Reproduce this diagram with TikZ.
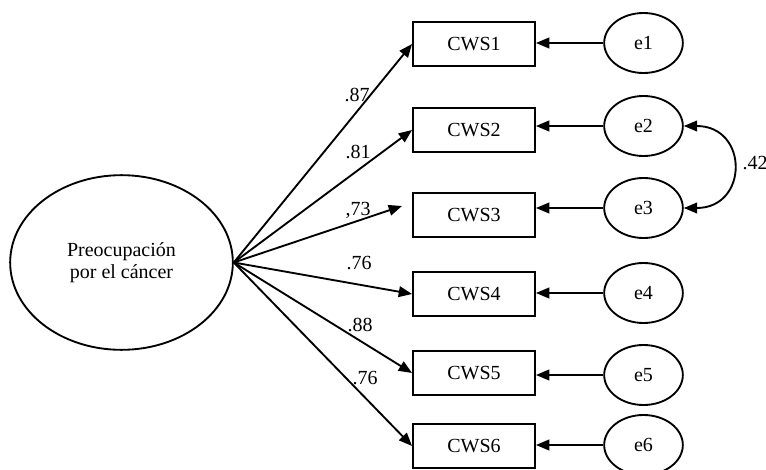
\documentclass[tikz,border=0pt]{standalone}
\usepackage{fontspec}
\setmainfont{Liberation Serif}
\usetikzlibrary{shapes.geometric,arrows.meta}
\begin{document}
\begin{tikzpicture}[x=0.75pt,y=-0.75pt,line width=1.4pt,
    font=\fontsize{15}{16.5}\selectfont,
    >={Triangle[length=10pt,width=8pt]}]
  \useasboundingbox (0,0) rectangle (766,470);
  \node[draw,ellipse,minimum width=167pt,minimum height=131pt,align=center] (F) at (121.5,262.5) {Preocupación\\por el cáncer};
  \foreach \i/\yb/\ye in {1/44/43,2/130/126,3/215/208,4/294/293,5/373/375,6/446/445} {
    \node[draw,minimum width=91.5pt,minimum height=33pt,inner sep=0pt] (c\i) at (474,\yb) {CWS\i};
    \node[draw,ellipse,minimum width=59pt,minimum height=45pt,inner sep=0pt] (e\i) at (643.5,\ye) {e\i};
    \draw[->] (e\i.west) -- (c\i.east |- e\i.west);
  }
  \coordinate (t3) at (402,206);
  \draw[->] (F.east) -- (c1.west);
  \draw[->] (F.east) -- (c2.west);
  \draw[->] (F.east) -- (t3);
  \draw[->] (F.east) -- (c4.west);
  \draw[->] (F.east) -- (c5.west);
  \draw[->] (F.east) -- (c6.west);
  \node (l1) at (357,95) {.87};
  \node (l2) at (358,152) {.81};
  \node (l3) at (358,210) {,73};
  \node (l4) at (359,263) {.76};
  \node (l5) at (360,325) {.88};
  \node (l6) at (365,378) {.76};
  % correlated errors
  \draw[<->] (e2.east) .. controls +(65,0) and +(65,0) .. (e3.east);
  \node (r23) at (755,163) {.42};
\end{tikzpicture}
\end{document}
